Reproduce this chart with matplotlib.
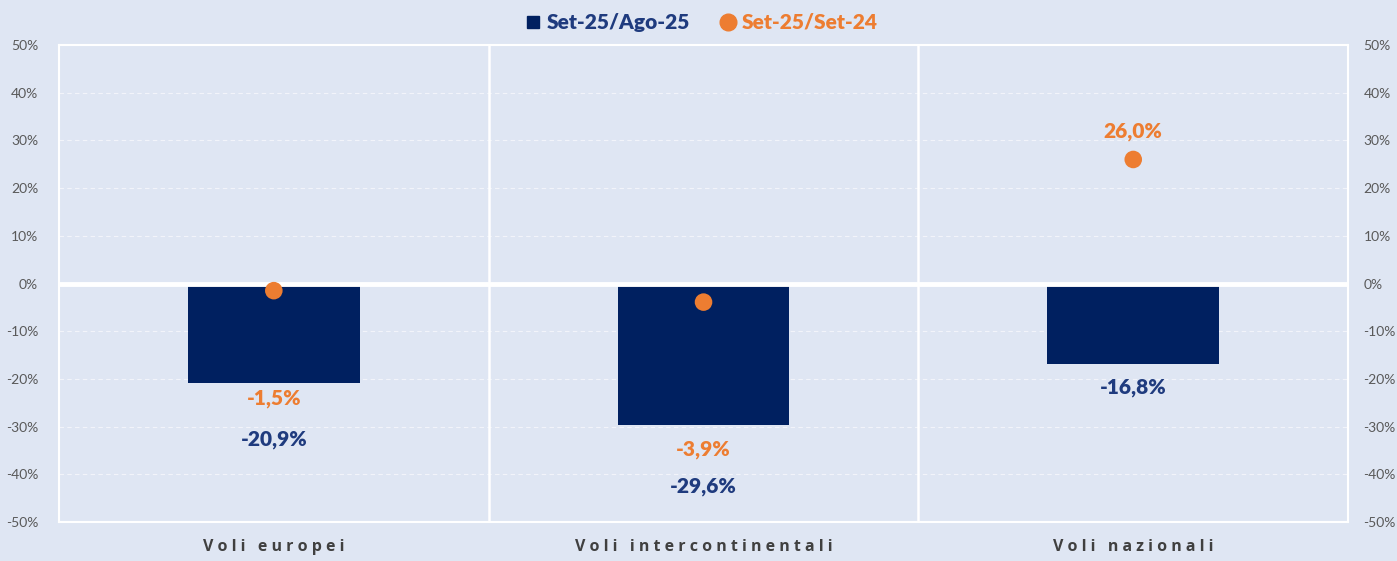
import numpy as np
import matplotlib.pyplot as plt
from matplotlib.lines import Line2D

# data
categories = ["Voli europei", "Voli intercontinentali", "Voli nazionali"]
mom = [-20.9, -29.6, -16.8]      # Set-25/Ago-25
yoy = [-1.5, -3.9, 26.0]         # Set-25/Set-24
series_names = ["Set-25/Ago-25", "Set-25/Set-24"]
yticks = list(range(-50, 51, 10))

# label positions (where the original chart puts them)
mom_label_y = [-32.8, -42.5, -21.7]
yoy_label_y = [-24.2, -34.9, 31.8]

bg = "#DFE6F3"
navy = "#002060"
navy_txt = "#1F3B7E"
orange = "#ED7D31"
grey = "#595959"

plt.rcParams['font.family'] = ['Lato', 'DejaVu Sans']

fig = plt.figure(figsize=(13.97, 5.61), dpi=100, facecolor=bg)
ax = fig.add_axes([0.0422, 0.0695, 0.9228, 0.8503], facecolor=bg)

x = np.arange(len(categories))
ax.bar(x, mom, width=0.40, color=navy, zorder=2)
ax.scatter(x, yoy, s=160, color=orange, zorder=3, edgecolors='none')

for i in range(len(categories)):
    ax.text(x[i], mom_label_y[i], f"{mom[i]:.1f}%".replace('.', ','),
            ha='center', va='center', color=navy_txt, fontsize=15, fontweight='heavy')
    ax.text(x[i], yoy_label_y[i], f"{yoy[i]:.1f}%".replace('.', ','),
            ha='center', va='center', color=orange, fontsize=15, fontweight='heavy')

ax.set_xlim(-0.5, len(categories) - 0.5)
ax.set_ylim(-50, 50)
ax.set_yticks(yticks)
ax.set_yticklabels([f"{t}%" for t in yticks])

# grid and separators
for t in yticks:
    if t not in (-50, 0, 50):
        ax.axhline(t, color='white', lw=0.8, ls=(0, (4, 3)), alpha=0.6, zorder=1)
ax.axhline(0, color='white', lw=3.5, zorder=2.5)
for s in x[:-1] + 0.5:
    ax.axvline(s, color='white', lw=1.8, zorder=1)

for sp in ax.spines.values():
    sp.set_color('white')
    sp.set_linewidth(1.5)

ax.set_xticks(x)
ax.set_xticklabels(['   '.join(' '.join(w) for w in c.split(' ')) for c in categories],
                   fontsize=11.5, fontweight='bold', color='#404040',
                   family=['Open Sans', 'DejaVu Sans'])
ax.tick_params(axis='x', length=0, pad=12)
ax.tick_params(axis='y', length=0, labelsize=10, labelcolor=grey, pad=15)

ax2 = ax.twinx()
ax2.set_ylim(-50, 50)
ax2.set_yticks(yticks)
ax2.set_yticklabels([f"{t}%" for t in yticks])
ax2.tick_params(axis='y', length=0, labelsize=10, labelcolor=grey, pad=11)
for sp in ax2.spines.values():
    sp.set_visible(False)

handles = [
    Line2D([], [], marker='s', ls='none', color=navy, markersize=9),
    Line2D([], [], marker='o', ls='none', color=orange, markersize=12),
]
leg = fig.legend(handles, series_names, loc='center', bbox_to_anchor=(0.5, 0.96),
                 ncol=2, frameon=False, handletextpad=0.0, columnspacing=1.2,
                 handlelength=1.3, prop={'weight': 'heavy', 'size': 15})
leg.get_texts()[0].set_color(navy_txt)
leg.get_texts()[1].set_color(orange)

fig.savefig("out.png", dpi=100, facecolor=bg)
